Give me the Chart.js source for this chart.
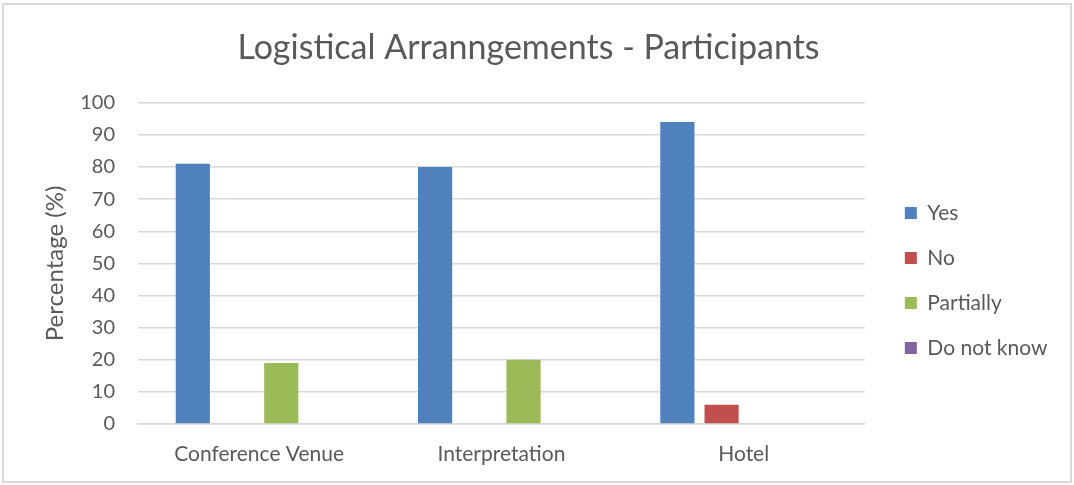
<!DOCTYPE html>
<html>
<head>
<meta charset="utf-8">
<script src="https://cdn.jsdelivr.net/npm/chart.js@4.4.1/dist/chart.umd.min.js"></script>
<style>
	html, body { margin: 0; padding: 0; background: #fff; }
	#wrap { position: relative; width: 1074px; height: 485px; }
	#frame { position: absolute; left: 2px; top: 3px; width: 1066px; height: 476px; border: 2px solid #d9d9d9; pointer-events: none; }
	canvas { position: absolute; left: 0; top: 0; }
</style>
</head>
<body>
<div id="wrap">
	<canvas id="logisticsChart" width="1074" height="485"></canvas>
	<div id="frame"></div>
</div>
<script>
var categories = ['Conference Venue', 'Interpretation', 'Hotel'];
var yesValues = [81, 80, 94];
var noValues = [0, 0, 6];
var partiallyValues = [19, 20, 0];
var dontKnowValues = [0, 0, 0];
var yTicks = [0, 10, 20, 30, 40, 50, 60, 70, 80, 90, 100];

var textColor = '#595959';
var gridColor = '#d9d9d9';
var fontFamily = 'Lato, "Open Sans", sans-serif';

var ctx = document.getElementById('logisticsChart').getContext('2d');
var myChart = new Chart(ctx, {
	type: 'bar',
	data: {
		labels: categories,
		datasets: [{
			label: 'Yes',
			data: yesValues,
			backgroundColor: '#4f81bd'
		}, {
			label: 'No',
			data: noValues,
			backgroundColor: '#c0504d'
		}, {
			label: 'Partially',
			data: partiallyValues,
			backgroundColor: '#9bbb59'
		}, {
			label: 'Do not know',
			data: dontKnowValues,
			backgroundColor: '#8064a2'
		}]
	},
	options: {
		responsive: false,
		animation: false,
		categoryPercentage: 0.73,
		barPercentage: 0.773,
		layout: {
			padding: { left: 0, right: 17, top: 0, bottom: 0 }
		},
		scales: {
			x: {
				grid: { display: false, drawTicks: false },
				border: { color: gridColor, width: 1.5 },
				ticks: {
					padding: 18,
					color: textColor,
					font: { family: fontFamily, size: 21 }
				},
				afterFit: function (scale) {
					scale.height = 61;
				}
			},
			y: {
				min: 0,
				max: 100,
				afterBuildTicks: function (scale) {
					scale.ticks = yTicks.map(function (v) { return { value: v }; });
				},
				grid: { color: gridColor, lineWidth: 1.5, drawTicks: false },
				border: { display: false },
				ticks: {
					padding: 23,
					color: textColor,
					font: { family: fontFamily, size: 20 }
				},
				title: {
					display: true,
					text: 'Percentage (%)',
					color: textColor,
					font: { family: fontFamily, size: 24 },
					padding: { top: 41, bottom: 0 }
				},
				afterFit: function (scale) {
					scale.width = 138;
				}
			},
			pad: {
				type: 'linear',
				position: 'right',
				display: true,
				grid: { display: false },
				border: { display: false },
				ticks: { display: false },
				afterFit: function (scale) {
					scale.width = 16;
				}
			}
		},
		plugins: {
			title: {
				display: true,
				text: 'Logistical Arranngements - Participants',
				color: textColor,
				font: { family: fontFamily, size: 34, weight: 'normal' },
				padding: { top: 28, bottom: 34 }
			},
			legend: {
				position: 'right',
				fullSize: false,
				title: {
					display: true,
					text: ' ',
					font: { size: 10 },
					padding: 11
				},
				labels: {
					boxWidth: 12,
					boxHeight: 12,
					padding: 24,
					color: textColor,
					font: { family: fontFamily, size: 21 }
				}
			},
			tooltip: { enabled: false }
		}
	}
});
</script>
</body>
</html>
